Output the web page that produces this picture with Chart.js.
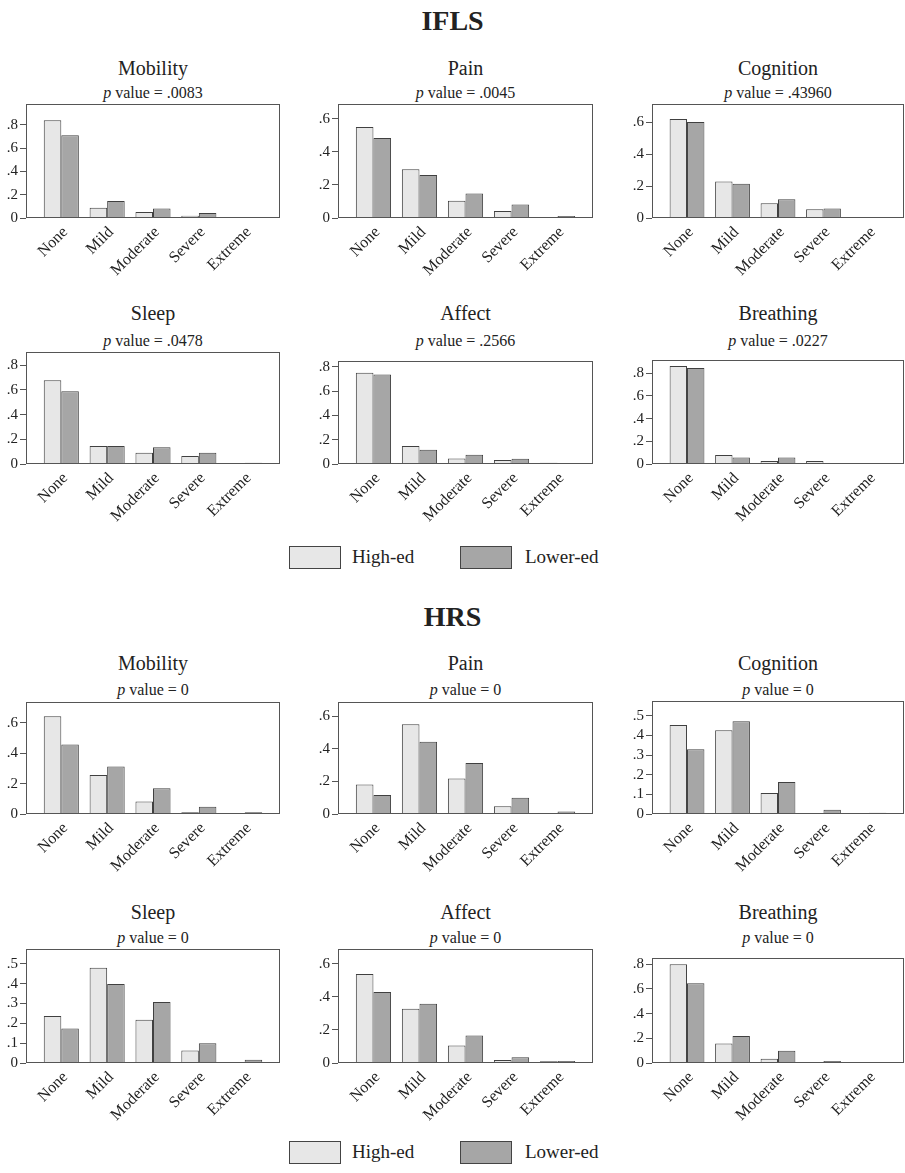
<!DOCTYPE html>
<html>
<head>
<meta charset="utf-8">
<script src="https://cdn.jsdelivr.net/npm/chart.js@4.4.1/dist/chart.umd.min.js"></script>
<style>
  body { margin:0; background:#fff; width:905px; height:1173px; position:relative; overflow:hidden;
         font-family:"Liberation Serif","DejaVu Serif",serif; color:#222; }
  .head { position:absolute; left:0; width:905px; text-align:center; font-weight:bold; font-size:28px; line-height:28px; }
  .ttl { position:absolute; text-align:center; font-size:20px; line-height:20px; white-space:nowrap; }
  .sub { position:absolute; text-align:center; font-size:16px; line-height:16px; white-space:nowrap; }
  canvas { position:absolute; }
  .key { position:absolute; box-sizing:border-box; border:1px solid #444; }
  .keytxt { position:absolute; font-size:19px; line-height:19px; white-space:nowrap; }
</style>
</head>
<body>
<script>
// Severity categories and group names
const categories = ['None', 'Mild', 'Moderate', 'Severe', 'Extreme'];
const seriesNames = ['High-ed', 'Lower-ed'];
const domains = ['Mobility', 'Pain', 'Cognition', 'Sleep', 'Affect', 'Breathing'];

// IFLS: share of respondents per severity level, one row per domain
const iflsPValues = ['.0083', '.0045', '.43960', '.0478', '.2566', '.0227'];
const iflsHigh = [
  [0.840, 0.088, 0.051, 0.020, 0.002],
  [0.551, 0.295, 0.104, 0.043, 0.002],
  [0.619, 0.229, 0.092, 0.055, 0.000],
  [0.678, 0.145, 0.092, 0.065, 0.003],
  [0.751, 0.148, 0.046, 0.033, 0.010],
  [0.864, 0.079, 0.026, 0.026, 0.000]
];
const iflsLower = [
  [0.710, 0.147, 0.082, 0.043, 0.008],
  [0.484, 0.260, 0.149, 0.082, 0.012],
  [0.600, 0.214, 0.118, 0.059, 0.006],
  [0.590, 0.145, 0.135, 0.092, 0.010],
  [0.735, 0.117, 0.076, 0.043, 0.007],
  [0.847, 0.058, 0.058, 0.006, 0.005]
];
const iflsYMax = [0.979, 0.69, 0.713, 0.908, 0.847, 0.917];
const iflsYTicks = [
  [0, 0.2, 0.4, 0.6, 0.8],
  [0, 0.2, 0.4, 0.6],
  [0, 0.2, 0.4, 0.6],
  [0, 0.2, 0.4, 0.6, 0.8],
  [0, 0.2, 0.4, 0.6, 0.8],
  [0, 0.2, 0.4, 0.6, 0.8]
];

// HRS
const hrsPValues = ['0', '0', '0', '0', '0', '0'];
const hrsHigh = [
  [0.644, 0.257, 0.083, 0.011, 0.000],
  [0.181, 0.551, 0.217, 0.047, 0.000],
  [0.454, 0.427, 0.107, 0.002, 0.000],
  [0.237, 0.481, 0.218, 0.063, 0.002],
  [0.539, 0.328, 0.106, 0.018, 0.010],
  [0.800, 0.157, 0.035, 0.005, 0.000]
];
const hrsLower = [
  [0.458, 0.312, 0.170, 0.048, 0.011],
  [0.116, 0.443, 0.313, 0.100, 0.016],
  [0.330, 0.473, 0.163, 0.022, 0.007],
  [0.174, 0.399, 0.308, 0.100, 0.017],
  [0.430, 0.359, 0.167, 0.035, 0.012],
  [0.646, 0.219, 0.100, 0.017, 0.003]
];
const hrsYMax = [0.737, 0.687, 0.576, 0.575, 0.69, 0.85];
const hrsYTicks = [
  [0, 0.2, 0.4, 0.6],
  [0, 0.2, 0.4, 0.6],
  [0, 0.1, 0.2, 0.3, 0.4, 0.5],
  [0, 0.1, 0.2, 0.3, 0.4, 0.5],
  [0, 0.2, 0.4, 0.6],
  [0, 0.2, 0.4, 0.6, 0.8]
];

// ---- page layout ----
const FILL_HIGH = '#e7e7e7';
const FILL_LOW = '#a6a6a6';
const EDGE = '#404040';
const FONT = '"Liberation Serif", "DejaVu Serif", serif';

const colLeft = [26, 338, 652];
const colWidth = [254, 255, 252];

// plot frame top/bottom per row and panel, plus title positions
const rows = [
  { tops: [104, 104, 104], bottom: 218, titleY: 68, subY: 93 },
  { tops: [352, 361, 360], bottom: 464, titleY: 313, subY: 341 },
  { tops: [702, 702, 701], bottom: 814, titleY: 663, subY: 690 },
  { tops: [949, 949, 958], bottom: 1063, titleY: 912, subY: 938 }
];

const AXW = 26;   // y axis width
const PADT = 14;  // space above frame inside canvas
const XH = 62;    // x axis height

const framePlugin = {
  id: 'frame',
  afterDatasetsDraw(chart) {
    const { ctx, chartArea: a } = chart;
    ctx.save();
    ctx.strokeStyle = '#555';
    ctx.lineWidth = 1;
    const l = Math.round(a.left) + 0.5, t = Math.round(a.top) + 0.5;
    const r = Math.round(a.right) - 0.5, b = Math.round(a.bottom) - 0.5;
    ctx.strokeRect(l, t, r - l, b - t);
    ctx.restore();
  }
};

function addText(cls, html, x, y, w) {
  const d = document.createElement('div');
  d.className = cls;
  d.innerHTML = html;
  d.style.top = y + 'px';
  d.style.left = x + 'px';
  if (w !== undefined) d.style.width = w + 'px';
  document.body.appendChild(d);
  return d;
}

function yLabel(v) {
  if (v === 0) return '0';
  return String(v).replace(/^0/, '');
}

function panel(rowIdx, col, name, pval, high, low, yMax, yTicks) {
  const row = rows[rowIdx];
  const boxL = colLeft[col], boxW = colWidth[col];
  const boxT = row.tops[col], boxH = row.bottom - boxT;

  addText('ttl', name, boxL, row.titleY - 10, boxW);
  addText('sub', '<i>p</i> value = ' + pval, boxL, row.subY - 8, boxW);

  const cv = document.createElement('canvas');
  const w = AXW + boxW + 2, h = PADT + boxH + XH;
  cv.width = w; cv.height = h;
  cv.style.width = w + 'px'; cv.style.height = h + 'px';
  cv.style.left = (boxL - AXW) + 'px';
  cv.style.top = (boxT - PADT) + 'px';
  document.body.appendChild(cv);

  const mk = (vals) => vals.map((v, i) => ({ x: i, y: v }));
  new Chart(cv.getContext('2d'), {
    type: 'bar',
    data: {
      datasets: [
        { label: seriesNames[0], data: mk(high), backgroundColor: FILL_HIGH, borderColor: EDGE, borderWidth: 1 },
        { label: seriesNames[1], data: mk(low), backgroundColor: FILL_LOW, borderColor: EDGE, borderWidth: 1 }
      ]
    },
    options: {
      responsive: false,
      devicePixelRatio: 1,
      animation: false,
      layout: { padding: { left: 0, right: 2, top: PADT, bottom: 0 } },
      datasets: { bar: { categoryPercentage: 0.765, barPercentage: 1.0 } },
      plugins: { legend: { display: false }, tooltip: { enabled: false } },
      scales: {
        x: {
          type: 'linear',
          offset: false,
          bounds: 'data',
          min: -0.77, max: 4.77,
          afterBuildTicks: s => { s.ticks = categories.map((c, i) => ({ value: i })); },
          afterFit: s => { s.height = XH; },
          grid: { display: false, offset: false },
          border: { display: false },
          ticks: {
            autoSkip: false, minRotation: 45, maxRotation: 45, padding: -3, labelOffset: 4,
            color: '#222', font: { family: FONT, size: 16 },
            callback: v => categories[v]
          }
        },
        y: {
          min: 0, max: yMax,
          afterBuildTicks: s => { s.ticks = yTicks.map(v => ({ value: v })); },
          afterFit: s => { s.width = AXW; },
          grid: { drawOnChartArea: false, drawTicks: true, tickLength: 6, color: '#555' },
          border: { display: false },
          ticks: { padding: 2, color: '#222', font: { family: FONT, size: 15 }, callback: yLabel }
        }
      }
    },
    plugins: [framePlugin]
  });
}

function legendRow(cy) {
  const k1 = addText('key', '', 289, cy - 11);
  k1.style.width = '52px'; k1.style.height = '23px'; k1.style.background = FILL_HIGH;
  addText('keytxt', seriesNames[0], 352, cy - 10);
  const k2 = addText('key', '', 460, cy - 11);
  k2.style.width = '52px'; k2.style.height = '23px'; k2.style.background = FILL_LOW;
  addText('keytxt', seriesNames[1], 525, cy - 10);
}

// ---- IFLS block ----
addText('head', 'IFLS', 0, 7);
domains.forEach((d, i) => {
  panel(Math.floor(i / 3), i % 3, d, iflsPValues[i], iflsHigh[i], iflsLower[i], iflsYMax[i], iflsYTicks[i]);
});
legendRow(557);

// ---- HRS block ----
addText('head', 'HRS', 0, 603);
domains.forEach((d, i) => {
  panel(2 + Math.floor(i / 3), i % 3, d, hrsPValues[i], hrsHigh[i], hrsLower[i], hrsYMax[i], hrsYTicks[i]);
});
legendRow(1152);
</script>
</body>
</html>
